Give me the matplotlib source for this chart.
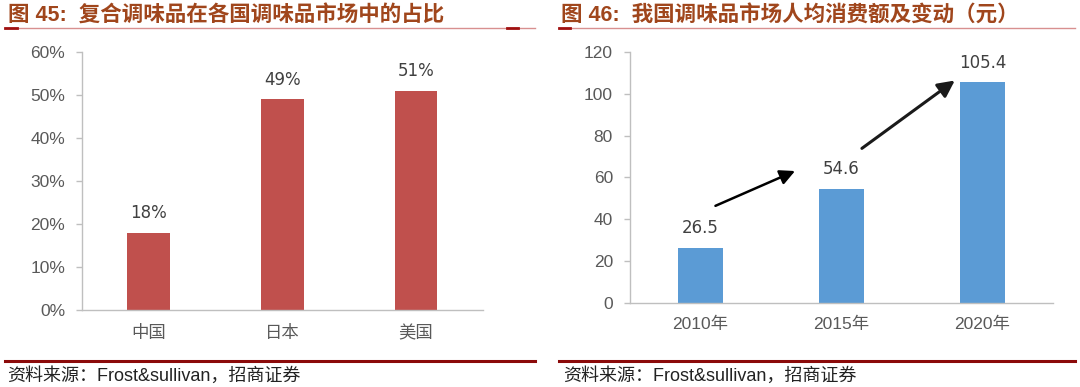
import matplotlib.pyplot as plt
from matplotlib.lines import Line2D

plt.rcParams['font.family'] = ['Liberation Sans', 'Noto Sans CJK SC', 'DejaVu Sans']

# 图45 data
countries = ['中国', '日本', '美国']
share = [18, 49, 51]
share_ticks = [0, 10, 20, 30, 40, 50, 60]

# 图46 data
years = ['2010年', '2015年', '2020年']
spend = [26.5, 54.6, 105.4]
spend_ticks = [0, 20, 40, 60, 80, 100, 120]

title_c = '#A0461C'
tick_c = '#595959'
spine_c = '#BFBFBF'

fig = plt.figure(figsize=(10.8, 3.87), dpi=100)


def style(ax):
    for s in ['top', 'right']:
        ax.spines[s].set_visible(False)
    for s in ['left', 'bottom']:
        ax.spines[s].set_color(spine_c)
        ax.spines[s].set_linewidth(1)
    ax.tick_params(axis='y', colors=spine_c, length=4, width=1, pad=8,
                   labelcolor=tick_c, labelsize=12.5)
    ax.tick_params(axis='x', length=0, pad=10, labelcolor=tick_c, labelsize=12.5)
    ax.set_xlim(-0.5, 2.5)


# left chart
ax1 = fig.add_axes([0.0759, 0.199, 0.371, 0.667])
x = range(len(countries))
ax1.bar(x, share, width=0.32, color='#C0504D')
ax1.set_ylim(0, 60)
ax1.set_yticks(share_ticks)
ax1.set_yticklabels([f'{v}%' for v in share_ticks])
ax1.set_xticks(list(x))
ax1.set_xticklabels(countries, family=['Noto Sans CJK SC'], fontsize=12.5)
style(ax1)
for i, v in enumerate(share):
    ax1.annotate(f'{v}%', (i, v), xytext=(0, 14), textcoords='offset points',
                 ha='center', va='center', fontsize=12, color='#404040',
                 family=['DejaVu Sans'])

# right chart
ax2 = fig.add_axes([0.583, 0.217, 0.392, 0.649])
x = range(len(years))
ax2.bar(x, spend, width=0.32, color='#5B9BD5')
ax2.set_ylim(0, 120)
ax2.set_yticks(spend_ticks)
ax2.set_xticks(list(x))
ax2.set_xticklabels(years)
style(ax2)
for i, v in enumerate(spend):
    ax2.annotate(f'{v}', (i, v), xytext=(0, 14), textcoords='offset points',
                 ha='center', va='center', fontsize=12, color='#404040',
                 family=['DejaVu Sans'])

arrow = dict(arrowstyle='-|>,head_length=0.9,head_width=0.45', color='black', lw=1.8)
ax2.annotate('', xy=(0.69, 63.6), xytext=(0.09, 45.9), arrowprops=arrow)
arrow2 = dict(arrowstyle='-|>,head_length=1.0,head_width=0.5', color='#1a1a1a', lw=2.2)
ax2.annotate('', xy=(1.82, 107.1), xytext=(1.13, 73.1), arrowprops=arrow2)

# titles and frame lines
fig.text(0.007, 0.958, '图 45:  复合调味品在各国调味品市场中的占比', fontsize=15.5,
         fontweight='bold', color=title_c, va='center',
         family=['Liberation Sans', 'Noto Sans CJK SC'])
fig.text(0.519, 0.958, '图 46:  我国调味品市场人均消费额及变动（元）', fontsize=15.5,
         fontweight='bold', color=title_c, va='center',
         family=['Liberation Sans', 'Noto Sans CJK SC'])

for x0, x1 in [(0.005, 0.495), (0.518, 0.995)]:
    fig.add_artist(Line2D([x0, x1], [0.927, 0.927], color='#D89090', lw=1))
    fig.add_artist(Line2D([x0, x1], [0.067, 0.067], color='#8B0A0A', lw=2.2))
fig.add_artist(Line2D([0.005, 0.016], [0.927, 0.927], color='#A01010', lw=2))
fig.add_artist(Line2D([0.469, 0.48], [0.927, 0.927], color='#A01010', lw=2))
fig.add_artist(Line2D([0.518, 0.528], [0.927, 0.927], color='#A01010', lw=2))

src = '资料来源：Frost&sullivan，招商证券'
fig.text(0.007, 0.028, src, fontsize=13, color='#222222', va='center')
fig.text(0.521, 0.028, src, fontsize=13, color='#222222', va='center')

fig.savefig('out.png', dpi=100)
